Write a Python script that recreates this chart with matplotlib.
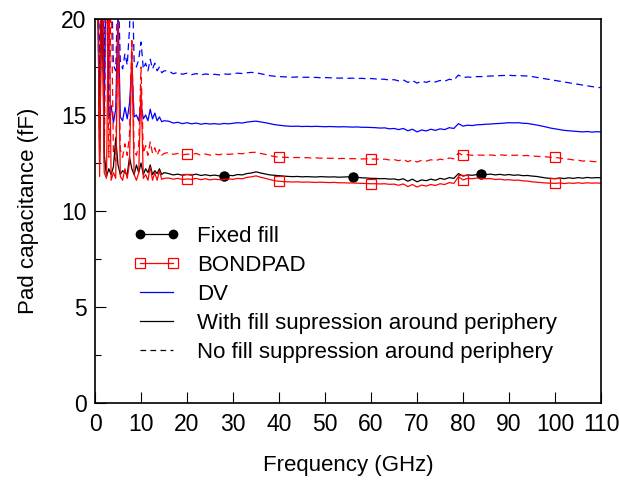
import numpy as np
import matplotlib
matplotlib.use("Agg")
import matplotlib.pyplot as plt
from matplotlib.lines import Line2D
from matplotlib.ticker import MultipleLocator

plt.rcParams['font.family'] = ['Liberation Sans', 'DejaVu Sans']

# frequency grid (GHz): fine below 15 GHz, 1 GHz steps above
freq = np.concatenate([np.arange(0.5, 15.01, 0.5), np.arange(16, 111, 1.0)])

# Fixed fill, with fill suppression (black solid)
fixed_fill = [
    24, 12.5, 22, 13, 11.8, 12.2, 11.9, 12.3, 13.8, 12.4,
    11.9, 12.1, 12.0, 11.9, 12.8, 12.2, 11.9, 12.4, 12.0, 12.5,
    11.9, 12.2, 12.0, 12.4, 11.9, 12.1, 11.95, 12.2, 11.9, 12.0,
    11.95, 11.88, 11.92, 11.86, 11.9, 11.87, 11.92, 11.85, 11.89, 11.84,
    11.87, 11.83, 11.82, 11.86, 11.84, 11.9, 11.88, 11.95, 11.98, 12.04,
    11.98, 11.93, 11.88, 11.86, 11.84, 11.82, 11.8, 11.79, 11.8, 11.78,
    11.79, 11.78, 11.77, 11.79, 11.78, 11.77, 11.78, 11.76, 11.77, 11.78,
    11.77, 11.75, 11.73, 11.72, 11.7, 11.7, 11.68, 11.69, 11.66, 11.67,
    11.62, 11.68, 11.55, 11.66, 11.52, 11.62, 11.58, 11.66, 11.6, 11.7,
    11.65, 11.74, 11.7, 11.95, 11.82, 11.88, 11.86, 11.9, 11.93, 11.9,
    11.92, 11.88, 11.91, 11.87, 11.9, 11.86, 11.88, 11.84, 11.85, 11.82,
    11.8, 11.76, 11.72, 11.7, 11.68, 11.72, 11.69, 11.73, 11.7, 11.74,
    11.71, 11.75, 11.72, 11.74, 11.73]

# BONDPAD, with fill suppression (red solid)
bondpad_sup = [
    25, 11.8, 24, 12.0, 11.7, 23, 11.6, 12.0, 11.7, 19.5,
    11.8, 11.6, 12.2, 11.7, 12.5, 18.5, 11.9, 11.6, 12.0, 16.5,
    11.7, 11.9, 11.6, 12.3, 11.6, 12.0, 11.6, 12.1, 11.65, 11.7,
    11.72, 11.66, 11.7, 11.64, 11.67, 11.65, 11.7, 11.63, 11.68, 11.62,
    11.66, 11.63, 11.64, 11.67, 11.65, 11.7, 11.68, 11.75, 11.78, 11.83,
    11.76, 11.7, 11.64, 11.58, 11.55, 11.53, 11.52, 11.51, 11.52, 11.5,
    11.51, 11.5, 11.49, 11.5, 11.49, 11.48, 11.49, 11.47, 11.47, 11.46,
    11.46, 11.45, 11.44, 11.43, 11.42, 11.42, 11.41, 11.42, 11.39, 11.4,
    11.34, 11.41, 11.27, 11.38, 11.25, 11.35, 11.3, 11.38, 11.33, 11.42,
    11.38, 11.48, 11.44, 11.78, 11.62, 11.7, 11.68, 11.72, 11.7, 11.68,
    11.69, 11.64, 11.66, 11.62, 11.63, 11.6, 11.61, 11.57, 11.56, 11.52,
    11.5, 11.48, 11.46, 11.45, 11.44, 11.46, 11.43, 11.46, 11.44, 11.47,
    11.44, 11.47, 11.45, 11.46, 11.45]

# BONDPAD, no fill suppression (red dashed)
bondpad_nosup = [
    24, 13.0, 25, 12.5, 23, 12.8, 22, 13.0, 12.6, 20.5,
    13.2, 12.8, 13.5, 12.9, 14.0, 19, 13.2, 12.9, 13.4, 17.5,
    13.0, 13.4, 12.9, 13.6, 13.0, 13.3, 12.9, 13.2, 12.9, 13.0,
    13.05, 12.95, 13.0, 12.92, 12.96, 12.94, 13.0, 12.9, 12.97, 12.91,
    12.96, 12.93, 12.98, 12.95, 12.97, 13.0, 12.98, 13.03, 13.05, 13.06,
    13.0, 12.95, 12.88, 12.84, 12.8, 12.8, 12.79, 12.78, 12.79, 12.77,
    12.78, 12.76, 12.77, 12.75, 12.76, 12.74, 12.75, 12.73, 12.74, 12.72,
    12.73, 12.72, 12.71, 12.72, 12.7, 12.71, 12.69, 12.7, 12.66, 12.68,
    12.62, 12.69, 12.57, 12.66, 12.55, 12.64, 12.6, 12.67, 12.62, 12.7,
    12.66, 12.76, 12.72, 13.02, 12.9, 12.93, 12.9, 12.92, 12.91, 12.9,
    12.92, 12.89, 12.93, 12.9, 12.92, 12.9, 12.91, 12.88, 12.89, 12.86,
    12.85, 12.83, 12.82, 12.8, 12.79, 12.76, 12.72, 12.7, 12.66, 12.65,
    12.6, 12.62, 12.58, 12.57, 12.55]

# DV, with fill suppression (blue solid)
dv_sup = [
    25, 14.5, 23, 15.0, 24, 14.8, 15.5, 14.6, 15.3, 20.5,
    14.9, 14.7, 15.4, 14.8, 15.6, 17.6, 14.9, 15.0, 14.7, 15.6,
    14.8, 15.0, 14.7, 15.3, 14.8, 15.1, 14.7, 14.9, 14.65, 14.7,
    14.68, 14.58, 14.62, 14.55, 14.6, 14.54, 14.58, 14.52, 14.56, 14.53,
    14.55, 14.52, 14.56, 14.54, 14.57, 14.6, 14.58, 14.63, 14.66, 14.68,
    14.64, 14.6, 14.55, 14.5, 14.47, 14.44, 14.42, 14.41, 14.42, 14.4,
    14.41, 14.4, 14.41, 14.4, 14.39, 14.4, 14.39, 14.38, 14.39, 14.38,
    14.37, 14.38, 14.36, 14.36, 14.35, 14.34, 14.32, 14.33, 14.28, 14.3,
    14.24, 14.3, 14.18, 14.26, 14.12, 14.22, 14.17, 14.26, 14.2, 14.28,
    14.24, 14.34, 14.3, 14.55, 14.42, 14.47, 14.45, 14.49, 14.5, 14.52,
    14.53, 14.55, 14.56, 14.58, 14.6, 14.59, 14.6, 14.57, 14.56, 14.52,
    14.48, 14.43, 14.38, 14.32, 14.28, 14.24, 14.2, 14.18, 14.16, 14.14,
    14.12, 14.14, 14.11, 14.13, 14.12]

# DV, no fill suppression (blue dashed)
dv_nosup = [
    24, 17, 26, 17.5, 24, 17.2, 23, 17.6, 17.3, 22,
    17.8, 17.4, 18.2, 17.6, 19.5, 23, 17.8, 17.5, 17.9, 18.8,
    17.4, 17.7, 17.3, 17.9, 17.4, 17.7, 17.3, 17.5, 17.2, 17.3,
    17.3, 17.15, 17.22, 17.12, 17.18, 17.1, 17.16, 17.08, 17.14, 17.1,
    17.12, 17.09, 17.14, 17.12, 17.15, 17.18, 17.16, 17.2, 17.22, 17.2,
    17.15, 17.1, 17.05, 17.02, 17.0, 16.99, 16.98, 16.97, 16.98, 16.96,
    16.97, 16.95, 16.96, 16.94, 16.95, 16.94, 16.93, 16.92, 16.93, 16.91,
    16.92, 16.9, 16.91, 16.89, 16.9, 16.88, 16.87, 16.86, 16.82, 16.84,
    16.78, 16.83, 16.7, 16.8, 16.66, 16.76, 16.7, 16.78, 16.72, 16.8,
    16.76, 16.86, 16.82, 17.08, 16.95, 16.98, 16.96, 17.0, 17.0, 17.02,
    17.03, 17.04, 17.05, 17.06, 17.07, 17.05, 17.06, 17.04, 17.03, 17.0,
    16.96, 16.92, 16.88, 16.84, 16.8, 16.76, 16.72, 16.68, 16.64, 16.6,
    16.56, 16.52, 16.48, 16.45, 16.42]

fixed_marker_f = [28, 56, 84]
bondpad_marker_f = [20, 40, 60, 80, 100]

fixed_idx = [int(np.argmin(np.abs(freq - f))) for f in fixed_marker_f]
bond_idx = [int(np.argmin(np.abs(freq - f))) for f in bondpad_marker_f]

fig = plt.figure(figsize=(6.19, 4.8), dpi=100)
ax = fig.add_axes([0.1535, 0.1604, 0.8175, 0.8])

dash = (5.5, 3.5)
ax.plot(freq, dv_nosup, color='#0000ff', lw=0.9, dashes=dash)
ax.plot(freq, dv_sup, color='#0000ff', lw=0.9)
ax.plot(freq, bondpad_nosup, color='#ff0000', lw=0.9, dashes=dash,
        marker='s', markevery=bond_idx, ms=7.5, mfc='none', mec='#ff0000', mew=0.9)
ax.plot(freq, fixed_fill, color='black', lw=0.9,
        marker='o', markevery=fixed_idx, ms=6.5)
ax.plot(freq, bondpad_sup, color='#ff0000', lw=0.9,
        marker='s', markevery=bond_idx, ms=7.5, mfc='none', mec='#ff0000', mew=0.9)

ax.set_xlim(0, 110)
ax.set_ylim(0, 20)
ax.set_xticks(range(0, 111, 10))
ax.set_yticks([0, 5, 10, 15, 20])
ax.yaxis.set_minor_locator(MultipleLocator(2.5))
ax.tick_params(direction='in', length=8, width=0.8, labelsize=16.5, top=False, right=False)
ax.tick_params(which='minor', direction='in', length=4, width=0.8, right=False)
ax.tick_params(axis='x', pad=7)
ax.tick_params(axis='y', pad=6)
for s in ax.spines.values():
    s.set_linewidth(1.2)
ax.set_xlabel('Frequency (GHz)', fontsize=16, labelpad=14)
ax.set_ylabel('Pad capacitance (fF)', fontsize=16, labelpad=16)

handles = [
    Line2D([], [], color='black', lw=0.9, marker='o', ms=6),
    Line2D([], [], color='#ff0000', lw=0.9, marker='s', ms=7, mfc='none', mew=0.9),
    Line2D([], [], color='#0000ff', lw=0.9),
    Line2D([], [], color='black', lw=0.9),
    Line2D([], [], color='black', lw=0.9, dashes=(4.5, 3.5)),
]
labels = ['Fixed fill', 'BONDPAD', 'DV', 'With fill supression around periphery',
          'No fill suppression around periphery']
ax.legend(handles, labels, loc='upper left', bbox_to_anchor=(0.075, 0.462),
          frameon=False, fontsize=16, numpoints=2, handlelength=2.1,
          handletextpad=0.78, labelspacing=0.36, borderpad=0, borderaxespad=0)

fig.savefig('out.png', dpi=100)
